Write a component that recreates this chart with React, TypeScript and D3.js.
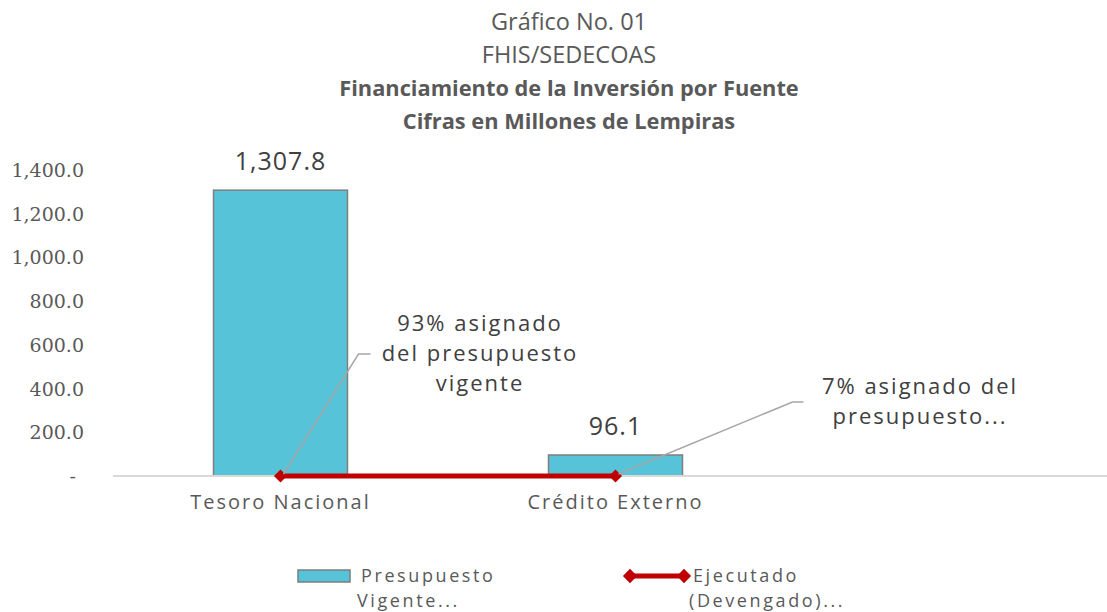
import React from 'react';
import * as d3 from 'd3';

const categories = ['Tesoro Nacional', 'Crédito Externo', ''];
const presupuestoVigente = [1307.8, 96.1];
const ejecutado = [0, 0];
const yTicks = [0, 200, 400, 600, 800, 1000, 1200, 1400];
const titleLines = ['Gráfico No. 01', 'FHIS/SEDECOAS', 'Financiamiento de la Inversión por Fuente', 'Cifras en Millones de Lempiras'];
const annotationLines = [
  ['93% asignado', 'del presupuesto', 'vigente'],
  ['7% asignado del', 'presupuesto...'],
];
const legendLabels = [['Presupuesto', 'Vigente...'], ['Ejecutado', '(Devengado)...']];

const W = 1107;
const H = 612;
const sansFont = '"Open Sans", sans-serif';

export default function App() {
  const y = d3.scaleLinear().domain([0, 1400]).range([476, 170]);
  const x = d3.scaleBand<string>().domain(categories).range([113, 1118]).paddingInner(0).paddingOuter(0);
  const bw = x.bandwidth();
  const barW = bw * 0.4;
  const cx = (i: number) => (x(categories[i]) as number) + bw / 2;
  const fmt = d3.format(',.1f');

  const linePts: [number, number][] = ejecutado.map((v, i) => [cx(i), y(v)]);
  const linePath = d3.line()(linePts) || '';
  const diamond = d3.symbol().type(d3.symbolDiamond2).size(110)() || '';
  const diamondLeg = d3.symbol().type(d3.symbolDiamond2).size(130)() || '';

  const ann = [
    { elbow: [78, -122], end: [90, -122], tx: 480, ty: 331 },
    { elbow: [177, -74], end: [188, -74], tx: 920, ty: 394 },
  ];

  return (
    <svg width={W} height={H} style={{ position: 'absolute', left: 0, top: 0, background: '#fff' }}>
      {titleLines.map((t, i) => (
        <text key={i} x={569} y={30 + i * 33} textAnchor="middle" fontFamily='"Open Sans", sans-serif'
          fontSize={i < 2 ? 23.5 : 21.8} fontWeight={i < 2 ? 400 : 700} fill="#595959">{t}</text>
      ))}
      {yTicks.map((t) => (
        <text key={t} x={t === 0 ? 76 : 84} y={y(t) + 7} textAnchor="end" fontFamily='"DejaVu Serif", serif'
          fontSize={19} fill="#595959">{t === 0 ? '-' : fmt(t)}</text>
      ))}
      {presupuestoVigente.map((v, i) => (
        <rect key={i} x={cx(i) - barW / 2} y={y(v)} width={barW} height={y(0) - y(v)}
          fill="#56c3d8" stroke="#7f7f7f" strokeWidth={1.5} />
      ))}
      <line x1={113} x2={W} y1={y(0)} y2={y(0)} stroke="#d9d9d9" strokeWidth={2} />
      {presupuestoVigente.map((v, i) => (
        <text key={i} x={cx(i)} y={y(v) - 20} textAnchor="middle" fontFamily={sansFont} fontSize={25}
          letterSpacing={1} fill="#404040">{fmt(v)}</text>
      ))}
      <path d={linePath} fill="none" stroke="#c00000" strokeWidth={5} />
      {linePts.map((p, i) => (
        <path key={i} d={diamond} transform={`translate(${p[0]},${p[1]})`} fill="#c00000" />
      ))}
      {linePts.map((p, i) => {
        const a = ann[i];
        const sx = p[0] + 3, sy = p[1] - 2;
        return (
          <g key={i}>
            <path d={`M${sx},${sy}L${p[0] + a.elbow[0]},${p[1] + a.elbow[1]}L${p[0] + a.end[0]},${p[1] + a.end[1]}`}
              fill="none" stroke="#a6a6a6" strokeWidth={1.5} />
            {annotationLines[i].map((t, j) => (
              <text key={j} x={a.tx} y={a.ty + j * 30} textAnchor="middle" fontFamily={sansFont} fontSize={22}
                letterSpacing={2} fill="#404040">{t}</text>
            ))}
          </g>
        );
      })}
      {categories.map((c, i) => c && (
        <text key={i} x={cx(i)} y={509} textAnchor="middle" fontFamily={sansFont} fontSize={20}
          letterSpacing={2} fill="#595959">{c}</text>
      ))}
      <rect x={298} y={570} width={52} height={12} fill="#56c3d8" stroke="#7f7f7f" strokeWidth={1.5} />
      <text x={361} y={582} fontFamily={sansFont} fontSize={18} letterSpacing={2.6} fill="#595959">{legendLabels[0][0]}</text>
      <text x={357} y={607} fontFamily={sansFont} fontSize={18} letterSpacing={2.6} fill="#595959">{legendLabels[0][1]}</text>
      <line x1={630} x2={684} y1={576} y2={576} stroke="#c00000" strokeWidth={5} />
      <path d={diamondLeg} transform="translate(630,576)" fill="#c00000" />
      <path d={diamondLeg} transform="translate(684,576)" fill="#c00000" />
      <text x={693} y={582} fontFamily={sansFont} fontSize={18} letterSpacing={2.6} fill="#595959">{legendLabels[1][0]}</text>
      <text x={689} y={607} fontFamily={sansFont} fontSize={18} letterSpacing={2.6} fill="#595959">{legendLabels[1][1]}</text>
    </svg>
  );
}
